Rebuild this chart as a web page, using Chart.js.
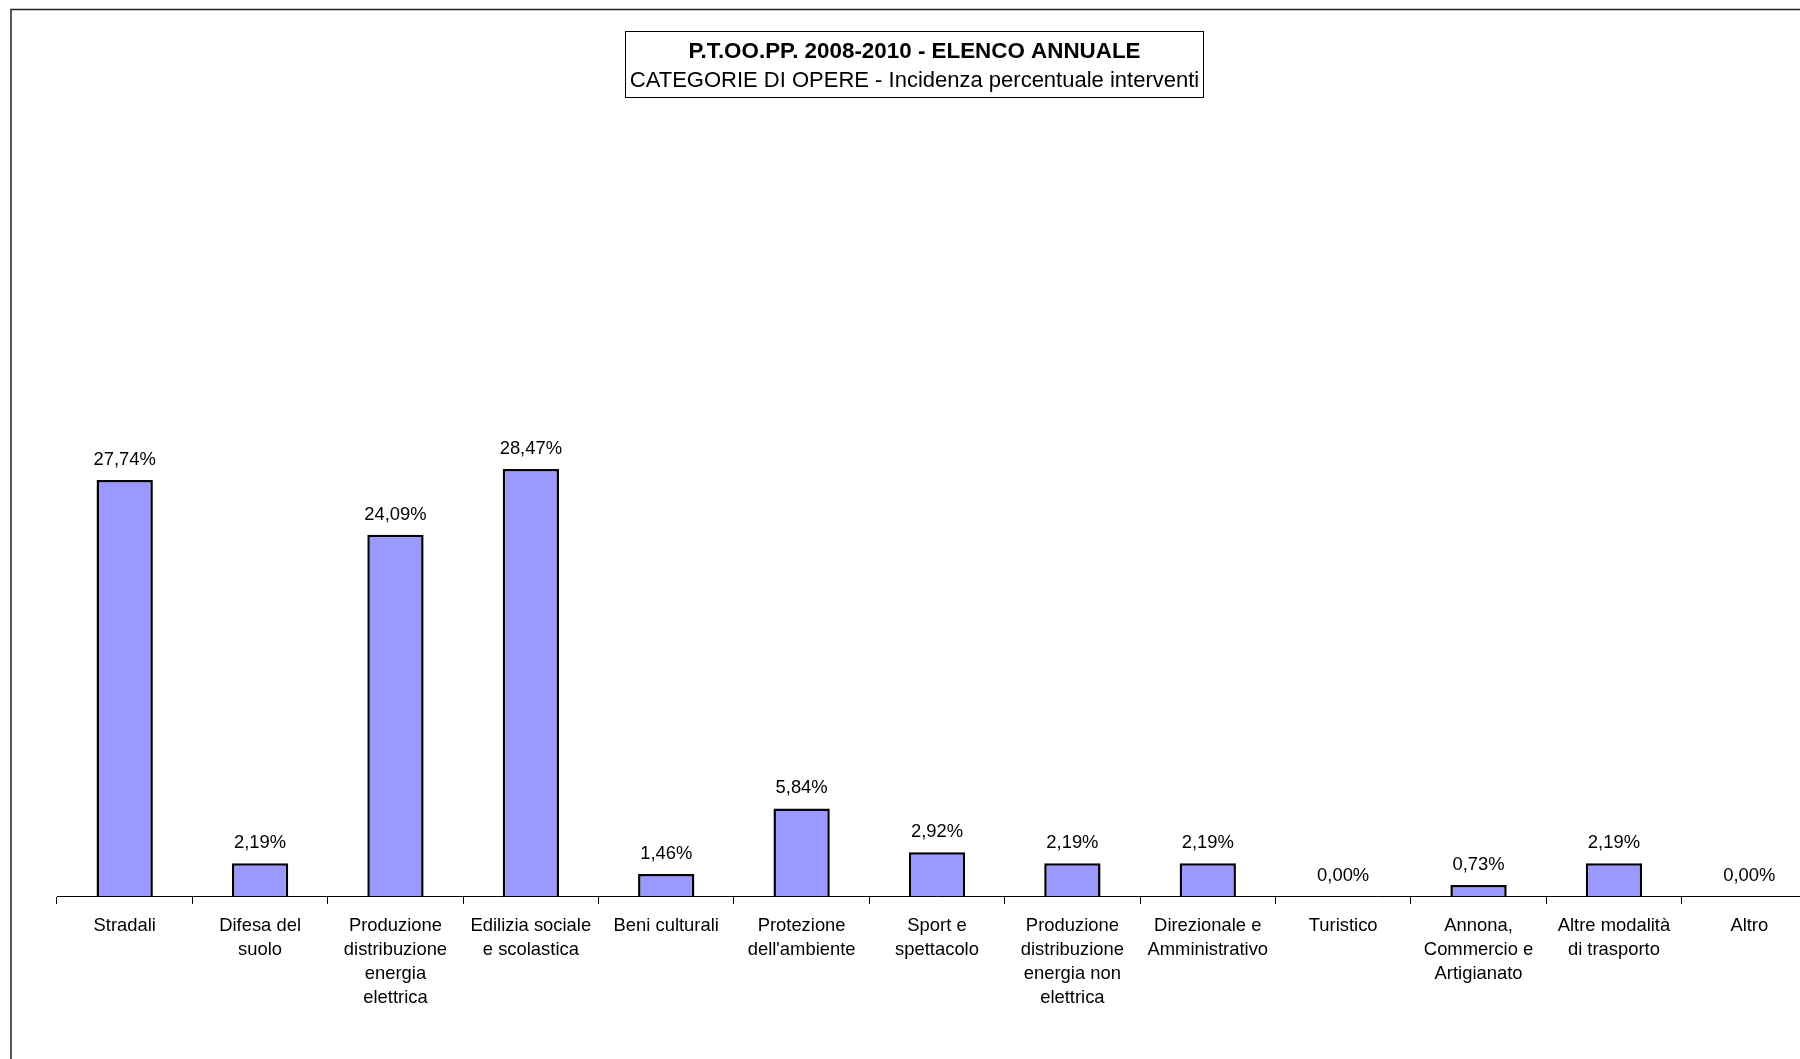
<!DOCTYPE html>
<html>
<head>
<meta charset="utf-8">
<title>P.T.OO.PP. 2008-2010 - ELENCO ANNUALE</title>
<script src="https://cdn.jsdelivr.net/npm/chart.js@4/dist/chart.umd.min.js"></script>
<style>
    html, body { margin: 0; padding: 0; background: #fff; overflow: hidden; }
    #wrap { position: absolute; left: 0; top: 0; width: 1830px; height: 1080px; }
</style>
</head>
<body>
<div id="wrap"><canvas id="myChart" width="1830" height="1080"></canvas></div>
<script>
var categories = [
    "Stradali",
    ["Difesa del", "suolo"],
    ["Produzione", "distribuzione", "energia", "elettrica"],
    ["Edilizia sociale", "e scolastica"],
    "Beni culturali",
    ["Protezione", "dell'ambiente"],
    ["Sport e", "spettacolo"],
    ["Produzione", "distribuzione", "energia non", "elettrica"],
    ["Direzionale e", "Amministrativo"],
    "Turistico",
    ["Annona,", "Commercio e", "Artigianato"],
    ["Altre modalità", "di trasporto"],
    "Altro"
];

var percentages = [27.74, 2.19, 24.09, 28.47, 1.46, 5.84, 2.92, 2.19, 2.19, 0.00, 0.73, 2.19, 0.00];

var titleLines = [
    "P.T.OO.PP. 2008-2010 - ELENCO ANNUALE",
    "CATEGORIE DI OPERE - Incidenza percentuale interventi"
];

var fontFamily = '"Liberation Sans", Arial, sans-serif';

var formatPercent = function(value) {
    return value.toFixed(2).replace('.', ',') + '%';
};

// frame of the chart + boxed title
var framePlugin = {
    id: 'frame',
    afterDraw: function(chart) {
        var ctx = chart.ctx;
        ctx.save();
        ctx.strokeStyle = '#222';
        ctx.lineWidth = 1.5;
        ctx.strokeRect(11, 9.5, 1806, 1100);

        ctx.strokeStyle = '#000';
        ctx.lineWidth = 1;
        ctx.strokeRect(625.5, 31.5, 578, 66);

        ctx.fillStyle = '#000';
        ctx.textAlign = 'center';
        ctx.textBaseline = 'middle';
        ctx.font = 'bold 22.4px ' + fontFamily;
        ctx.fillText(titleLines[0], 914.5, 52);
        ctx.font = '22px ' + fontFamily;
        ctx.fillText(titleLines[1], 914.5, 81);
        ctx.restore();
    }
};

var valueLabelPlugin = {
    id: 'valueLabels',
    afterDatasetsDraw: function(chart) {
        var ctx = chart.ctx;
        var meta = chart.getDatasetMeta(0);
        ctx.save();
        ctx.fillStyle = '#000';
        ctx.textAlign = 'center';
        ctx.textBaseline = 'middle';
        ctx.font = '18.4px ' + fontFamily;
        meta.data.forEach(function(bar, i) {
            ctx.fillText(formatPercent(percentages[i]), bar.x, bar.y - 20);
        });
        ctx.restore();
    }
};

var config = {
    type: 'bar',
    data: {
        labels: categories,
        datasets: [{
            data: percentages,
            backgroundColor: '#9999FF',
            borderColor: '#000',
            borderWidth: function(c) { return c.raw === 0 ? 0 : 2.5; },
            categoryPercentage: 0.8,
            barPercentage: 0.52
        }]
    },
    options: {
        responsive: false,
        animation: false,
        devicePixelRatio: 1,
        layout: {
            padding: { left: 57, right: 13, top: 446, bottom: 0 }
        },
        plugins: {
            legend: { display: false },
            title: { display: false },
            tooltip: { enabled: false }
        },
        scales: {
            x: {
                offset: true,
                grid: {
                    display: true,
                    drawOnChartArea: false,
                    drawTicks: true,
                    tickLength: 8,
                    color: '#000',
                    offset: true
                },
                border: { display: true, color: '#000', width: 1 },
                ticks: {
                    color: '#000',
                    padding: 10,
                    maxRotation: 0,
                    autoSkip: false,
                    font: { family: fontFamily, size: 18.4, lineHeight: 1.31 }
                },
                afterFit: function(scale) {
                    scale.height = 184;
                }
            },
            y: {
                display: false,
                min: 0,
                max: 30
            }
        }
    },
    plugins: [valueLabelPlugin, framePlugin]
};

if (document.getElementById("myChart")) {
    var myBarChart = new Chart(document.getElementById("myChart").getContext("2d"), config);
}
</script>
</body>
</html>
